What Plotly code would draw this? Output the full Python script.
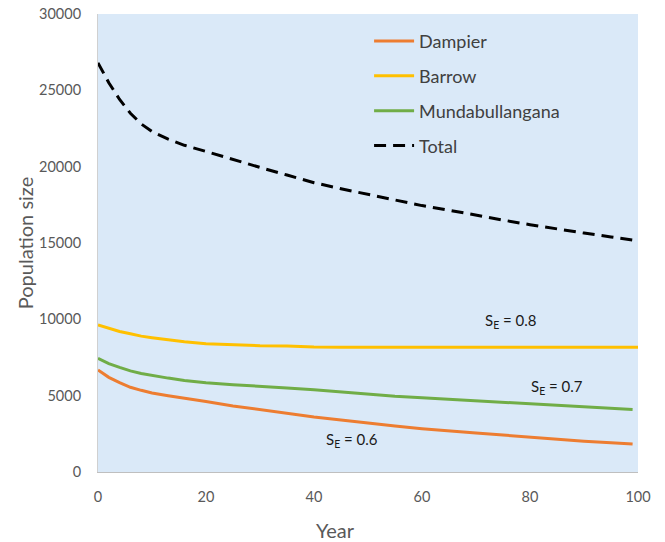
import plotly.graph_objects as go

years = [0, 2, 4, 6, 8, 10, 13, 16, 20, 25, 30, 35, 40, 45, 50, 55, 60, 65, 70, 75, 80, 85, 90, 95, 99]
dampier = [6680, 6200, 5850, 5550, 5350, 5180, 5000, 4850, 4620, 4330, 4080, 3850, 3600, 3410, 3200,
           3020, 2840, 2680, 2550, 2420, 2280, 2150, 2020, 1920, 1830]
mundabullangana = [7450, 7100, 6850, 6620, 6450, 6320, 6150, 6000, 5850, 5720, 5630, 5500, 5380, 5230, 5080,
                   4960, 4860, 4760, 4660, 4580, 4480, 4380, 4280, 4170, 4100]
barrow_years = years + [100]
barrow = [9630, 9400, 9200, 9050, 8900, 8800, 8650, 8530, 8400, 8320, 8270, 8260, 8180, 8170, 8170,
          8170, 8170, 8170, 8170, 8170, 8170, 8170, 8170, 8170, 8170, 8170]
total = [26800, 25500, 24400, 23500, 22800, 22300, 21800, 21400, 21000, 20450, 19950, 19450, 18950, 18550, 18200,
         17800, 17450, 17150, 16800, 16500, 16200, 15900, 15650, 15400, 15200]

x_ticks = [0, 20, 40, 60, 80, 100]
y_ticks = [0, 5000, 10000, 15000, 20000, 25000, 30000]
y_tick_text = ["0", "5000", "10000", "15000", "20000", "25000", "30000"]

labels = ["S<sub>E</sub> = 0.8", "S<sub>E</sub> = 0.7", "S<sub>E</sub> = 0.6"]
label_x = [76.5, 85, 47]
label_y = [9900, 5570, 2100]

FONT = "Lato, Carlito, Calibri, sans-serif"

fig = go.Figure()
fig.add_trace(go.Scatter(x=years, y=dampier, mode="lines", name="Dampier",
                         line=dict(color="#ED7D31", width=3), legendgroup="a"))
fig.add_trace(go.Scatter(x=barrow_years, y=barrow, mode="lines", name="Barrow",
                         line=dict(color="#FFC000", width=3), legendgroup="b"))
fig.add_trace(go.Scatter(x=years, y=mundabullangana, mode="lines", name="Mundabullangana",
                         line=dict(color="#70AD47", width=3), legendgroup="c"))
fig.add_trace(go.Scatter(x=years, y=total, mode="lines", name="Total",
                         line=dict(color="black", width=3, dash="12px,7px"), legendgroup="d"))

for t, x, y in zip(labels, label_x, label_y):
    fig.add_annotation(x=x, y=y, text=t, showarrow=False,
                       font=dict(family=FONT, size=15, color="#1a1a1a"))

# x-axis title (placed slightly left of centre, as in the original)
fig.add_annotation(text="Year", xref="paper", yref="paper", x=0.44, y=-0.1266,
                   xanchor="center", yanchor="middle",
                   showarrow=False, font=dict(family=FONT, size=20, color="#595959"))

fig.update_layout(
    width=665, height=542,
    margin=dict(l=98, r=27, t=14, b=70),
    paper_bgcolor="white",
    plot_bgcolor="#DAE9F8",
    font=dict(family=FONT, color="#595959", size=14.5),
    showlegend=True,
    legend=dict(x=0.502, y=0.981, xanchor="left", yanchor="top",
                bgcolor="rgba(0,0,0,0)", font=dict(size=18, color="#404040"),
                tracegroupgap=8.5, itemwidth=40),
    xaxis=dict(range=[0, 100], tickvals=x_ticks, showgrid=False, zeroline=False, automargin=False,
               showline=True, linecolor="#BFBFBF", linewidth=1, ticks="", ticklabelstandoff=12),
    yaxis=dict(range=[0, 30000], tickvals=y_ticks, ticktext=y_tick_text, automargin=False,
               showgrid=False, zeroline=False, showline=True, linecolor="#D0D0D0", linewidth=1,
               ticks="", ticklabelstandoff=13,
               title=dict(text="Population size", font=dict(size=20, color="#595959"), standoff=0)),
)

fig.write_html("out.html", config={"displayModeBar": False},
               post_script="document.body.style.margin='0';")
